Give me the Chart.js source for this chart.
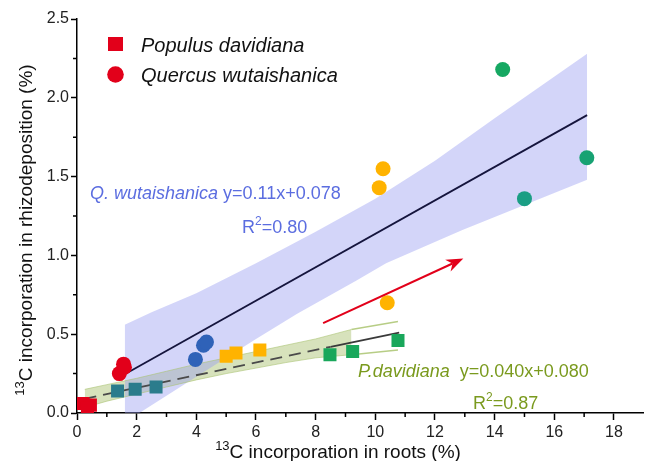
<!DOCTYPE html>
<html>
<head>
<meta charset="utf-8">
<script src="https://cdn.jsdelivr.net/npm/chart.js@4.4.1/dist/chart.umd.min.js"></script>
<style>
  html, body { margin: 0; padding: 0; background: #fff; }
  #wrap { width: 653px; height: 461px; }
</style>
</head>
<body>
<div id="wrap"><canvas id="chart"></canvas></div>
<script>
// Значения (x = 13C в корнях, %, y = 13C в ризодепозиции, %)
const pdRedX = [0.2, 0.45, 0.35];
const pdRedY = [0.06, 0.05, 0.03];
const qwRedX = [1.42, 1.59, 1.56];
const qwRedY = [0.25, 0.29, 0.31];
const pdTealX = [1.36, 1.95, 2.65];
const pdTealY = [0.14, 0.15, 0.165];
const qwBlueX = [3.97, 4.24, 4.34];
const qwBlueY = [0.34, 0.43, 0.45];
const pdYellowX = [5.0, 5.33, 6.13];
const pdYellowY = [0.36, 0.38, 0.40];
const qwYellowX = [10.4, 10.13, 10.26];
const qwYellowY = [0.70, 1.43, 1.55];
const pdGreenX = [8.48, 9.24, 10.76];
const pdGreenY = [0.37, 0.39, 0.46];
const qwGreenX = [14.27, 15.0, 17.09];
const qwGreenY = [2.18, 1.36, 1.62];

// Регрессии и доверительные полосы
const qFitX = [1.45, 17.1];
const qFitY = [0.23, 1.89];
const qBandUpX = [1.6, 2.5, 4, 6, 8, 10, 12, 14, 17.1];
const qBandUpY = [0.56, 0.64, 0.76, 0.95, 1.15, 1.36, 1.60, 1.87, 2.28];
const qBandLoX = [1.6, 2.09, 4, 6, 7.38, 9.37, 10.36, 12.9, 15, 17.1];
const qBandLoY = [0, 0, 0.23, 0.47, 0.63, 0.84, 0.95, 1.16, 1.32, 1.48];

const pFitDashX = [0.25, 8.5];
const pFitDashY = [0.09, 0.42];
const pFitSolidX = [8.5, 10.8];
const pFitSolidY = [0.42, 0.51];
const pBandUpX = [0.26, 1, 2, 3, 4, 5, 6, 7, 8, 9.2];
const pBandUpY = [0.15, 0.18, 0.22, 0.265, 0.31, 0.35, 0.39, 0.43, 0.47, 0.53];
const pBandLoX = [0.26, 1, 2, 3, 4, 5, 6, 7, 8, 9.2];
const pBandLoY = [0.035, 0.075, 0.12, 0.165, 0.21, 0.25, 0.285, 0.32, 0.35, 0.37];
const pEdgeUpX = [9.2, 10.76];
const pEdgeUpY = [0.53, 0.58];
const pEdgeLoX = [9.2, 10.76];
const pEdgeLoY = [0.37, 0.40];

const arrowX = [8.25, 12.95];
const arrowY = [0.57, 0.98];

const FONT = '"Liberation Sans", Arial, sans-serif';
const RED = '#e2001a';

const pts = (xs, ys) => xs.map((x, i) => ({ x, y: ys[i] }));

function scatterSet(label, xs, ys, color, style, r) {
  return {
    type: 'scatter', label, data: pts(xs, ys),
    pointStyle: style, pointRadius: r, pointHoverRadius: r,
    backgroundColor: color, borderColor: color, borderWidth: 0, order: 0
  };
}

function lineSet(label, xs, ys, opts) {
  return Object.assign({
    type: 'line', label, data: pts(xs, ys),
    pointRadius: 0, pointHoverRadius: 0, borderWidth: 1.6,
    fill: false, tension: 0, order: 1
  }, opts);
}

// Текст с курсивом и верхними индексами
function richText(ctx, x, y, parts, size, color, align) {
  const fontOf = p => `${p.i ? 'italic ' : ''}${p.s ? Math.round(size * 0.66) : size}px ${FONT}`;
  let w = 0;
  parts.forEach(p => { ctx.font = fontOf(p); w += ctx.measureText(p.t).width; });
  let cx = align === 'center' ? x - w / 2 : x;
  ctx.fillStyle = color;
  ctx.textAlign = 'left';
  ctx.textBaseline = 'alphabetic';
  parts.forEach(p => {
    ctx.font = fontOf(p);
    ctx.fillText(p.t, cx, p.s ? y - size * 0.42 : y);
    cx += ctx.measureText(p.t).width;
  });
}

const decor = {
  id: 'decor',
  afterDatasetsDraw(chart) {
    const { ctx, scales: { x, y } } = chart;
    // красная стрелка
    const x0 = x.getPixelForValue(arrowX[0]), y0 = y.getPixelForValue(arrowY[0]);
    const x1 = x.getPixelForValue(arrowX[1]), y1 = y.getPixelForValue(arrowY[1]);
    const len = Math.hypot(x1 - x0, y1 - y0);
    const ux = (x1 - x0) / len, uy = (y1 - y0) / len;
    const L = 17, W = 6.5;
    ctx.save();
    ctx.strokeStyle = RED;
    ctx.fillStyle = RED;
    ctx.lineWidth = 2;
    ctx.beginPath();
    ctx.moveTo(x0, y0);
    ctx.lineTo(x1 - ux * L * 0.7, y1 - uy * L * 0.7);
    ctx.stroke();
    ctx.beginPath();
    ctx.moveTo(x1, y1);
    ctx.lineTo(x1 - ux * L - uy * W, y1 - uy * L + ux * W);
    ctx.lineTo(x1 - ux * L * 0.7, y1 - uy * L * 0.7);
    ctx.lineTo(x1 - ux * L + uy * W, y1 - uy * L - ux * W);
    ctx.closePath();
    ctx.fill();
    ctx.restore();
  },
  afterDraw(chart) {
    const { ctx, chartArea: a, scales: { x, y } } = chart;
    ctx.save();
    // малые деления
    ctx.strokeStyle = '#000';
    ctx.lineWidth = 1.5;
    ctx.beginPath();
    for (let v = 1; v <= 17; v += 2) {
      const px = x.getPixelForValue(v);
      ctx.moveTo(px, a.bottom);
      ctx.lineTo(px, a.bottom + 4);
    }
    for (let v = 0.25; v < 2.5; v += 0.5) {
      const py = y.getPixelForValue(v);
      ctx.moveTo(a.left, py);
      ctx.lineTo(a.left - 4, py);
    }
    ctx.stroke();

    // легенда
    ctx.fillStyle = RED;
    ctx.fillRect(108, 37, 15, 14);
    ctx.beginPath();
    ctx.arc(115.5, 74.5, 8.3, 0, Math.PI * 2);
    ctx.fill();
    richText(ctx, 141, 52, [{ t: 'Populus davidiana', i: true }], 20, '#111');
    richText(ctx, 141, 82, [{ t: 'Quercus wutaishanica', i: true }], 20, '#111');

    // уравнения регрессий
    const qCol = '#5b6de0';
    richText(ctx, 90, 199, [{ t: 'Q. wutaishanica', i: true }, { t: ' y=0.11x+0.078' }], 18, qCol);
    richText(ctx, 242, 233, [{ t: 'R' }, { t: '2', s: true }, { t: '=0.80' }], 18, qCol);
    const pCol = '#7a9a1e';
    richText(ctx, 358, 377, [{ t: 'P.davidiana', i: true }, { t: '  y=0.040x+0.080' }], 18, pCol);
    richText(ctx, 473, 409, [{ t: 'R' }, { t: '2', s: true }, { t: '=0.87' }], 18, pCol);

    // подписи осей
    richText(ctx, 338, 458, [{ t: '13', s: true }, { t: 'C incorporation in roots (%)' }], 19, '#111', 'center');
    ctx.translate(32, 230);
    ctx.rotate(-Math.PI / 2);
    richText(ctx, 0, 0, [{ t: '13', s: true }, { t: 'C incorporation in rhizodeposition (%)' }], 19, '#111', 'center');
    ctx.restore();
  }
};

const datasets = [
  scatterSet('Populus davidiana', pdRedX, pdRedY, RED, 'rect', 9.2),
  scatterSet('Quercus wutaishanica', qwRedX, qwRedY, RED, 'circle', 7.5),
  scatterSet('P teal', pdTealX, pdTealY, '#2b7c8c', 'rect', 9.2),
  scatterSet('Q blue', qwBlueX, qwBlueY, '#2f62b8', 'circle', 7.5),
  scatterSet('P yellow', pdYellowX, pdYellowY, '#ffb300', 'rect', 9.2),
  scatterSet('Q yellow', qwYellowX, qwYellowY, '#ffb300', 'circle', 7.5),
  scatterSet('P green', pdGreenX, pdGreenY, '#19a75b', 'rect', 9.2),
  scatterSet('Q green', qwGreenX, qwGreenY, ['#16a862', '#1a9e84', '#17a273'], 'circle', 7.5),
  lineSet('Q fit', qFitX, qFitY, { borderColor: '#15153d', borderWidth: 1.8 }),
  lineSet('P fit dashed', pFitDashX, pFitDashY, { borderColor: '#4a4a4a', borderWidth: 1.8, borderDash: [12, 7] }),
  lineSet('P fit solid', pFitSolidX, pFitSolidY, { borderColor: '#3a3a3a', borderWidth: 1.8 }),
  lineSet('P edge up', pEdgeUpX, pEdgeUpY, { borderColor: 'rgba(175,200,120,0.9)', borderWidth: 1.5 }),
  lineSet('P edge lo', pEdgeLoX, pEdgeLoY, { borderColor: 'rgba(175,200,120,0.9)', borderWidth: 1.5 }),
  lineSet('Q band up', qBandUpX, qBandUpY, { borderColor: 'transparent', borderWidth: 0, fill: '+1', backgroundColor: 'rgba(150,155,240,0.42)', order: 2 }),
  lineSet('Q band lo', qBandLoX, qBandLoY, { borderColor: 'transparent', borderWidth: 0, order: 2 }),
  lineSet('P band up', pBandUpX, pBandUpY, { borderColor: 'rgba(170,195,115,0.6)', borderWidth: 1, fill: '+1', backgroundColor: 'rgba(150,180,80,0.38)', order: 2 }),
  lineSet('P band lo', pBandLoX, pBandLoY, { borderColor: 'rgba(170,195,115,0.6)', borderWidth: 1, order: 2 })
];

new Chart(document.getElementById('chart'), {
  type: 'scatter',
  data: { datasets },
  plugins: [decor],
  options: {
    responsive: true,
    maintainAspectRatio: false,
    animation: false,
    layout: { padding: { left: 0, top: 19, right: 1, bottom: 0 } },
    plugins: {
      legend: { display: false },
      tooltip: { enabled: false },
      filler: { drawTime: 'beforeDatasetsDraw' }
    },
    scales: {
      x: {
        type: 'linear', min: 0, max: 19,
        border: { color: '#000', width: 1.5 },
        grid: {
          drawOnChartArea: false, tickLength: 7, tickWidth: 1.5,
          tickColor: c => (c.tick && c.tick.value % 2 === 0 && c.tick.value <= 18) ? '#000' : 'rgba(0,0,0,0)'
        },
        ticks: {
          stepSize: 1, autoSkip: false, maxRotation: 0, padding: 3, color: '#222',
          font: { family: FONT, size: 16 },
          callback: v => (v % 2 === 0 && v <= 18) ? String(v) : ''
        },
        afterFit: s => { s.height = 48; }
      },
      y: {
        type: 'linear', min: 0, max: 2.5,
        border: { color: '#000', width: 1.5 },
        grid: {
          drawOnChartArea: false, tickLength: 6, tickWidth: 1.5,
          tickColor: c => (c.tick && Math.abs(c.tick.value * 2 - Math.round(c.tick.value * 2)) < 1e-6) ? '#000' : 'rgba(0,0,0,0)'
        },
        ticks: {
          stepSize: 0.25, autoSkip: false, padding: 2, color: '#222',
          font: { family: FONT, size: 16 },
          callback: v => Math.abs(v * 2 - Math.round(v * 2)) < 1e-6 ? v.toFixed(1) : ''
        },
        afterFit: s => { s.width = 77; }
      }
    }
  }
});
</script>
</body>
</html>
